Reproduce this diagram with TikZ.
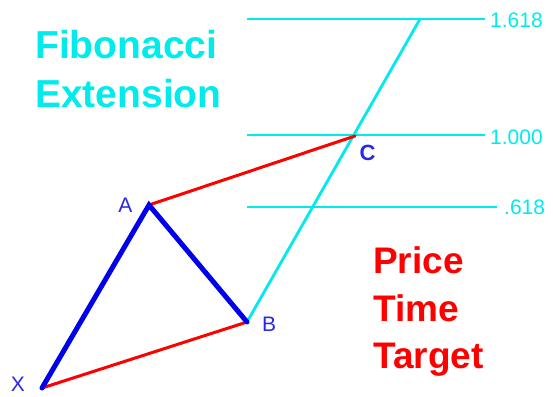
\documentclass[tikz,border=0pt]{standalone}
\usepackage{fontspec}
\setmainfont{Liberation Sans}
\definecolor{cy}{RGB}{0,235,235}
\definecolor{bl}{RGB}{0,0,235}
\definecolor{lbl}{RGB}{40,40,230}
\definecolor{rd}{RGB}{255,0,0}
\begin{document}
\begin{tikzpicture}[x=1pt,y=-1pt,
  cyline/.style={draw=cy,line width=2.8pt},
  blline/.style={draw=bl,line width=5pt,line cap=round},
  rdline/.style={draw=rd,line width=3pt,line cap=round},
  level/.style={text=cy,font=\fontsize{21}{21}\selectfont,anchor=west,inner sep=0pt},
  pt/.style={text=lbl,font=\fontsize{21}{21}\selectfont,inner sep=0pt},
  titlecy/.style={text=cy,font=\fontsize{39}{39}\selectfont\bfseries,anchor=base west,inner sep=0pt},
  titlerd/.style={text=rd,font=\fontsize{37}{37}\selectfont\bfseries,anchor=base west,inner sep=0pt}]
\path[use as bounding box] (0,0) rectangle (553,396);
\coordinate (X) at (42,388);
\coordinate (A) at (149,205);
\coordinate (B) at (247,322);
\coordinate (C) at (355,136);
\coordinate (T) at (420,19);
\coordinate (h1s) at (247,19);  \coordinate (h1e) at (485,19);
\coordinate (h2s) at (247,135); \coordinate (h2e) at (485,135);
\coordinate (h3s) at (247,207); \coordinate (h3e) at (497,207);
% cyan levels
\draw[cyline] (h1s) -- (h1e);
\draw[cyline] (h2s) -- (h2e);
\draw[cyline] (h3s) -- (h3e);
\draw[cyline] (B) -- (T);
% red
\draw[rdline] (X) -- (B);
\draw[rdline] (A) -- (C);
% blue
\draw[blline] (X) -- (A) -- (B);
% level labels
\node[level] (l1) at (490,20) {1.618};
\node[level] (l2) at (490,137) {1.000};
\node[level] (l3) at (504,207) {.618};
% point labels
\node[pt] (lA) at (125.5,205) {A};
\node[pt] (lB) at (269,324.5) {B};
\node[pt] (lX) at (18,384) {X};
\node[pt,font=\fontsize{22}{22}\selectfont\bfseries] (lC) at (367.5,152.5) {C};
% titles
\node[titlecy] (fib1) at (35,58) {Fibonacci};
\node[titlecy] (fib2) at (35,107) {Extension};
\node[titlerd] (p1) at (373,273) {Price};
\node[titlerd] (p2) at (373,321) {Time};
\node[titlerd] (p3) at (373,368) {Target};
\end{tikzpicture}
\end{document}
